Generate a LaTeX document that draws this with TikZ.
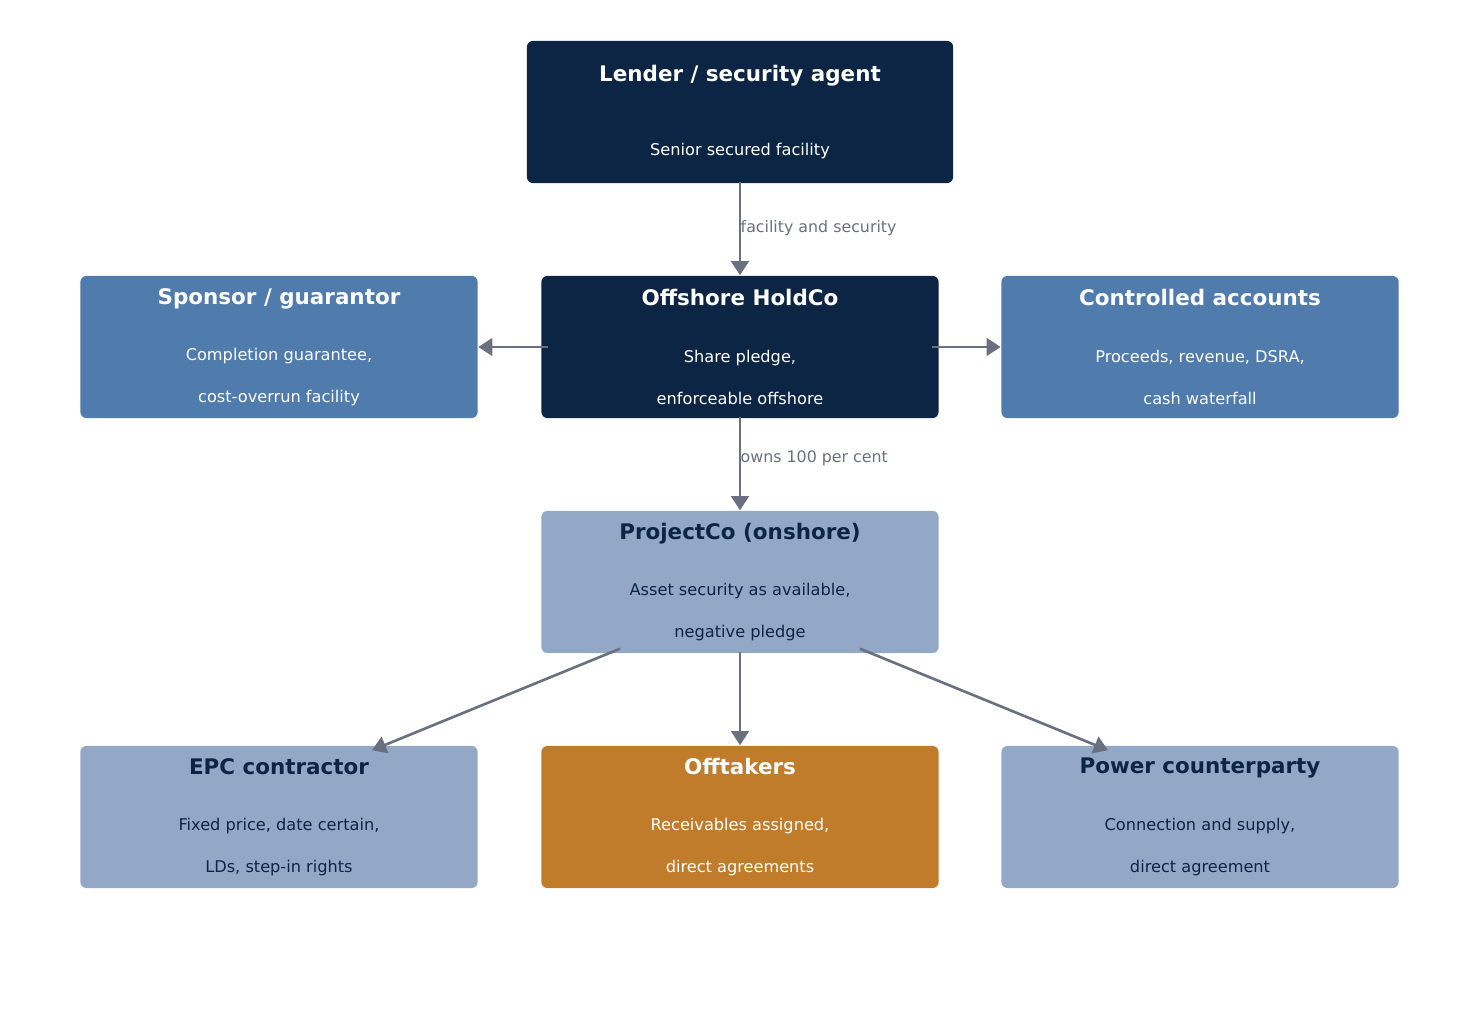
\documentclass[tikz,border=0pt]{standalone}
\usepackage{fontspec}
\setmainfont{DejaVu Sans}
\usetikzlibrary{arrows.meta,calc}
\definecolor{navy}{HTML}{0C2545}
\definecolor{midblue}{HTML}{4F7BAD}
\definecolor{lightblue}{HTML}{93A8C6}
\definecolor{ochre}{HTML}{C07C2B}
\definecolor{linegray}{HTML}{6B7080}
\newcommand{\ttl}{\bfseries\fontsize{6.1}{7.5}\selectfont}
\newcommand{\sbt}{\mdseries\fontsize{4.6}{6.3}\selectfont}
\tikzset{
  box/.style={rounded corners=0.06cm, minimum width=3.97cm, minimum height=1.42cm, align=center, inner sep=0pt},
  dark/.style={box, fill=navy, text=white},
  mid/.style={box, fill=midblue, text=white},
  light/.style={box, fill=lightblue, text=navy},
  hot/.style={box, fill=ochre, text=white},
  link/.style={draw=linegray, line width=0.75pt, -{Triangle[length=4pt,width=5pt]}},
  lbl/.style={text=linegray, font=\fontsize{4.5}{5.5}\selectfont, anchor=west, inner sep=0pt}
}
\begin{document}
\begin{tikzpicture}[x=0.01cm,y=-0.01cm]
    \useasboundingbox (0,0) rectangle (1480,1019);
    % boxes
    \node [dark, minimum width=4.26cm] (lender) at (740,112) {\ttl Lender / security agent\\[9pt]\sbt Senior secured facility};
    \node [dark] (hold) at (740,347) {\ttl Offshore HoldCo\\[4pt]\sbt Share pledge,\\\sbt enforceable offshore};
    \node [mid] (sponsor) at (279,347) {\ttl Sponsor / guarantor\\[4pt]\sbt Completion guarantee,\\\sbt cost-overrun facility};
    \node [mid] (accts) at (1200,347) {\ttl Controlled accounts\\[4pt]\sbt Proceeds, revenue, DSRA,\\\sbt cash waterfall};
    \node [light] (proj) at (740,582) {\ttl ProjectCo (onshore)\\[4pt]\sbt Asset security as available,\\\sbt negative pledge};
    \node [light] (epc) at (279,817) {\ttl EPC contractor\\[4pt]\sbt Fixed price, date certain,\\\sbt LDs, step-in rights};
    \node [hot] (off) at (740,817) {\ttl Offtakers\\[4pt]\sbt Receivables assigned,\\\sbt direct agreements};
    \node [light] (power) at (1200,817) {\ttl Power counterparty\\[4pt]\sbt Connection and supply,\\\sbt direct agreement};
    % connectors
    \coordinate (pl) at ($(proj.south)+(-120,-5)$);
    \coordinate (pr) at ($(proj.south)+(120,-5)$);
    \coordinate (el) at ($(epc.north)+(93,5)$);
    \coordinate (er) at ($(power.north)+(-92,5)$);
    \draw [link] ($(lender.south)+(0,-2)$) -- (hold.north);
    \draw [link] ($(hold.west)+(7,0)$) -- (sponsor.east);
    \draw [link] ($(hold.east)+(-7,0)$) -- (accts.west);
    \draw [link] ($(hold.south)+(0,-2)$) -- (proj.north);
    \draw [link] ($(proj.south)+(0,-2)$) -- (off.north);
    \draw [link] (pl) -- (el);
    \draw [link] (pr) -- (er);
    \node [lbl] (l1) at (740,228) {facility and security};
    \node [lbl] (l2) at (740,458) {owns 100 per cent};
\end{tikzpicture}
\end{document}
